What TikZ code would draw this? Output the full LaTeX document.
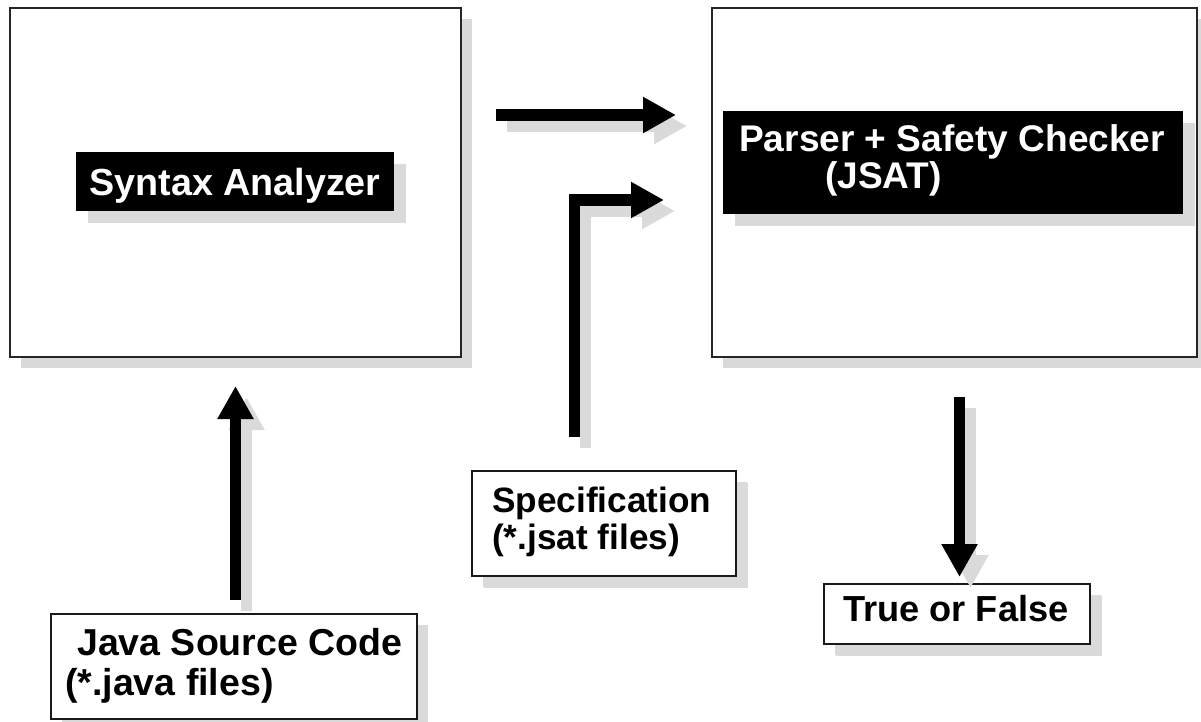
\documentclass[tikz,border=0pt]{standalone}
\usepackage{fontspec}
\setmainfont{Liberation Sans}
\usetikzlibrary{arrows.meta,shadows}
\definecolor{shadowgray}{RGB}{218,218,218}
\newcommand\myfs[1]{\fontsize{#1}{#1}\selectfont}
\tikzset{
  frame/.style={draw=black!85, line width=1.5pt, fill=white, inner sep=0pt,
    drop shadow={shadow xshift=11pt, shadow yshift=-11pt, fill=shadowgray, opacity=1}},
  blackbox/.style={fill=black, text=white, inner sep=0pt,
    drop shadow={shadow xshift=12pt, shadow yshift=-12pt, fill=shadowgray, opacity=1}},
  txt/.style={inner sep=0pt, anchor=base west, font=\bfseries},
  bigarrow/.style={line width=11.5pt, line join=miter,
    -{Triangle[length=33pt,width=34pt]}},
  arrowshadow/.style={bigarrow, draw=shadowgray,
    transform canvas={shift={(11pt,-11pt)}}},
}
\begin{document}
\begin{tikzpicture}[x=1pt,y=-1pt]
\useasboundingbox (0,0) rectangle (1201,722);
\clip (0,0) rectangle (1201,722);
\fill[white] (0,0) rectangle (1201,722);

% big boxes
\node[frame, minimum width=451pt, minimum height=349pt] (syn) at (235.5,182.5) {};
\node[frame, minimum width=485pt, minimum height=349pt] (psc) at (954.5,182.5) {};

% black labels
\node[blackbox, minimum width=318pt, minimum height=59pt, text height=27pt, text depth=0pt,
  font=\bfseries\myfs{37.7}] (synlbl) at (235,181.5) {Syntax Analyzer};
\node[blackbox, minimum width=460pt, minimum height=103pt] (psclbl) at (953,162.5) {};
\node[txt, text=white, font=\bfseries\myfs{37.1}] (psct1) at (739,152) {Parser + Safety Checker};
\node[txt, text=white, font=\bfseries\myfs{37.1}] (psct2) at (825,189) {(JSAT)};

% small boxes
\node[frame, draw=black!90, line width=1.3pt, minimum width=366pt, minimum height=105pt,
  drop shadow={shadow xshift=11pt, shadow yshift=-11pt, fill=shadowgray, opacity=1}] (java) at (234,666.5) {};
\node[txt, font=\bfseries\myfs{37.5}] (javat1) at (77,655) {Java Source Code};
\node[txt, font=\bfseries\myfs{37.5}] (javat2) at (65,695) {(*.java files)};

\node[frame, draw=black!90, line width=1.3pt, minimum width=264pt, minimum height=105pt,
  drop shadow={shadow xshift=12pt, shadow yshift=-12pt, fill=shadowgray, opacity=1}] (spec) at (604,523.5) {};
\node[txt, font=\bfseries\myfs{35.2}] (spect1) at (492,512) {Specification};
\node[txt, font=\bfseries\myfs{35.2}] (spect2) at (492,549) {(*.jsat files)};

\node[frame, draw=black!90, line width=1.3pt, minimum width=266pt, minimum height=60pt,
  drop shadow={shadow xshift=12pt, shadow yshift=-12pt, fill=shadowgray, opacity=1}] (tf) at (957,614) {};
\node[txt, font=\bfseries\myfs{36.2}] (tft) at (843,621) {True or False};

% arrow end points
\coordinate (a1s) at (496,115);
\coordinate (a1e) at (676,115);
\coordinate (a2s) at (574.5,437);
\coordinate (a2c) at (574.5,200);
\coordinate (a2e) at (664,200);
\coordinate (a3s) at (235.5,600);
\coordinate (a3e) at (235.5,386);
\coordinate (a4s) at (959.5,397);
\coordinate (a4e) at (959.5,577);

% arrow shadows
\draw[arrowshadow] (a1s) -- (a1e);
\draw[arrowshadow] (a2s) -- (a2c) -- (a2e);
\draw[arrowshadow] (a3s) -- (a3e);
\draw[arrowshadow] (a4s) -- (a4e);

% arrows
\draw[bigarrow] (a1s) -- (a1e);
\draw[bigarrow] (a2s) -- (a2c) -- (a2e);
\draw[bigarrow] (a3s) -- (a3e);
\draw[bigarrow] (a4s) -- (a4e);
\end{tikzpicture}
\end{document}
